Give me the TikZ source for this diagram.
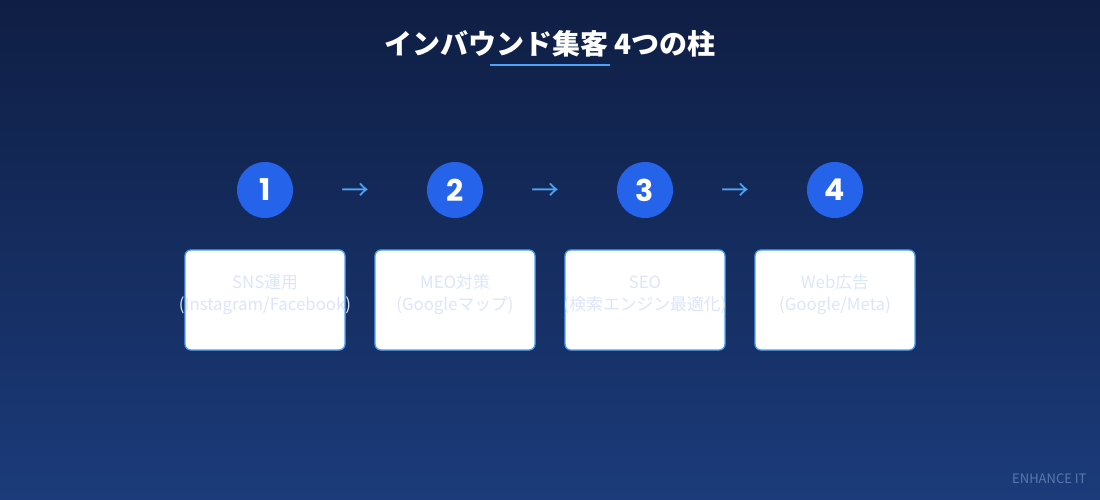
\documentclass[tikz,border=0pt]{standalone}
\usepackage{fontspec}
\setmainfont{Noto Sans CJK JP}
\newfontfamily\numfont{Poppins}
\definecolor{bgtop}{HTML}{0F1E44}
\definecolor{bgbot}{HTML}{1B3B7A}
\definecolor{circ}{HTML}{2563EB}
\definecolor{accent}{HTML}{4DA3F5}
\definecolor{boxtext}{HTML}{DCE6FB}
\definecolor{footer}{HTML}{5A78AD}
\tikzset{
  numcircle/.style={circle, fill=circ, minimum size=56pt, inner sep=0pt, text=white, font=\numfont\bfseries\fontsize{30}{30}\selectfont},
  flowarrow/.style={text=accent, font=\fontsize{28}{28}\selectfont, inner sep=0pt},
  pillarbox/.style={draw=accent, line width=1.3pt, fill=white, rounded corners=6pt, minimum width=160pt, minimum height=100pt, inner sep=0pt},
  boxlabel/.style={text=boxtext, font=\fontsize{16.8}{22}\selectfont, align=center, inner sep=0pt}
}
\begin{document}
\begin{tikzpicture}[x=1pt,y=-1pt]
\useasboundingbox (0,0) rectangle (1100,500);
\shade[top color=bgtop, bottom color=bgbot] (0,0) rectangle (1100,500);
\node[text=white, font=\bfseries\fontsize{28}{28}\selectfont] (title) at (550,44) {インバウンド集客 4つの柱};
\coordinate (ul1) at (490,65.5);
\coordinate (ul2) at (610,65.5);
\draw[accent, line width=2pt] (ul1) -- (ul2);
\foreach \i/\x in {1/265,2/455,3/645,4/835}{
  \node[numcircle] (c\i) at (\x,190) {\i};
  \node[pillarbox] (b\i) at (\x,300) {};
}
\node[flowarrow] (a1) at (355,191.5) {→};
\node[flowarrow] (a2) at (545,191.5) {→};
\node[flowarrow] (a3) at (735,191.5) {→};
\node[boxlabel] (t1) at (265,295) {SNS運用\\(Instagram/Facebook)};
\node[boxlabel] (t2) at (455,295) {MEO対策\\(Googleマップ)};
\node[boxlabel] (t3) at (645,295) {SEO\\(検索エンジン最適化)};
\node[boxlabel] (t4) at (835,295) {Web広告\\(Google/Meta)};
\node[text=footer, font=\fontsize{13}{13}\selectfont, anchor=east] (footer) at (1090,479) {ENHANCE IT};
\end{tikzpicture}
\end{document}
